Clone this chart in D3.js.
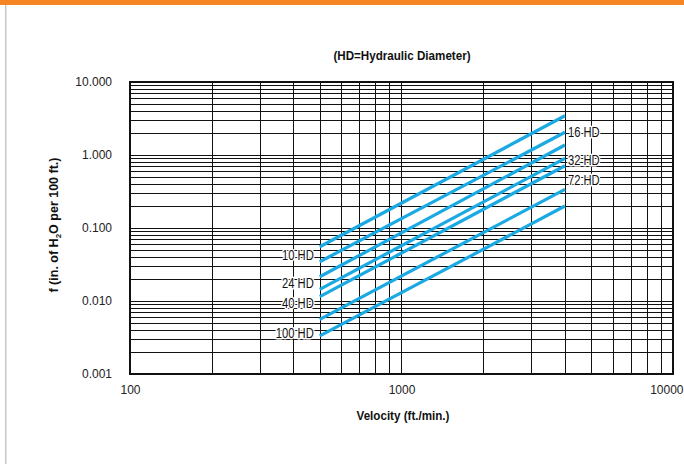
<!DOCTYPE html>
<html>
<head>
<meta charset="utf-8">
<script src="https://cdn.jsdelivr.net/npm/d3@7"></script>
<style>
  html, body { margin: 0; padding: 0; background: #fff; }
  svg { display: block; }
</style>
</head>
<body>
<svg id="chart" width="684" height="464"></svg>
<script>
// ---- data ----
const seriesNames = ["10 HD", "16 HD", "24 HD", "32 HD", "40 HD", "72 HD", "100 HD"];
const velocityPoints = [500, 4000];
const frictionAt500 = [0.0554, 0.0345, 0.0215, 0.01445, 0.01146, 0.00561, 0.00332];
const frictionAt4000 = [3.45, 2.05, 1.37, 0.90, 0.713, 0.339, 0.200];
const labelSide = ["left", "right", "left", "right", "left", "right", "left"];
const yTickValues = [10, 1, 0.1, 0.01, 0.001];
const yTickLabels = ["10.000", "1.000", "0.100", "0.010", "0.001"];
const xTickValues = [100, 1000, 10000];
const xTickLabels = ["100", "1000", "10000"];

// ---- layout ----
const svg = d3.select("#chart");
const plot = { left: 130, right: 673, top: 82, bottom: 374 };
const x = d3.scaleLog().domain([100, 10000]).range([plot.left, plot.right]);
const y = d3.scaleLog().domain([0.001, 10]).range([plot.bottom, plot.top]);
const narrow = "'Liberation Sans Narrow', 'Arial Narrow', 'Liberation Sans', Arial, sans-serif";
const regular = "'Liberation Sans', Arial, sans-serif";
const blue = "#1aa9e3";

// orange header bar & left rule
svg.append("rect").attr("x", 0).attr("y", 0).attr("width", 684).attr("height", 5).attr("fill", "#f58423");
svg.append("rect").attr("x", 5).attr("y", 5).attr("width", 1.5).attr("height", 459).attr("fill", "#c8c8c8");

// grid lines (log decades with minor 2..9)
function minorValues(lo, hi) {
  const out = [];
  for (let d = lo; d < hi; d *= 10) for (let k = 1; k <= 10; k++) out.push(+(d * k).toPrecision(6));
  return Array.from(new Set(out));
}
const gx = minorValues(100, 10000);
const gy = minorValues(0.001, 10);
const grid = svg.append("g").attr("stroke", "#111").attr("stroke-width", 1.2).attr("shape-rendering", "crispEdges");
grid.selectAll("line.v").data(gx).join("line").attr("class", "v")
  .attr("x1", d => Math.round(x(d)) + 0.5).attr("x2", d => Math.round(x(d)) + 0.5)
  .attr("y1", plot.top).attr("y2", plot.bottom);
grid.selectAll("line.h").data(gy).join("line").attr("class", "h")
  .attr("y1", d => Math.round(y(d)) + 0.5).attr("y2", d => Math.round(y(d)) + 0.5)
  .attr("x1", plot.left).attr("x2", plot.right);

// frame
svg.append("rect").attr("x", plot.left).attr("y", plot.top)
  .attr("width", plot.right - plot.left).attr("height", plot.bottom - plot.top)
  .attr("fill", "none").attr("stroke", "#111").attr("stroke-width", 2);

// axes labels (tick text)
const yAxis = d3.axisLeft(y).tickValues(yTickValues).tickSize(0).tickPadding(18)
  .tickFormat((d, i) => yTickLabels[i]);
const yg = svg.append("g").attr("transform", `translate(${plot.left},0)`).call(yAxis);
yg.select(".domain").remove();
yg.selectAll("text").attr("font-family", regular).attr("font-size", 12).attr("fill", "#222");

const xAxis = d3.axisBottom(x).tickValues(xTickValues).tickSize(0).tickPadding(11)
  .tickFormat((d, i) => xTickLabels[i]);
const xg = svg.append("g").attr("transform", `translate(0,${plot.bottom})`).call(xAxis);
xg.select(".domain").remove();
xg.selectAll("text").attr("font-family", regular).attr("font-size", 12).attr("fill", "#222");
// keep the last tick label inside the page
xg.selectAll("text").filter(d => d === 10000).attr("text-anchor", "end").attr("x", 683 - plot.right);

// series lines
const series = seriesNames.map((name, i) => ({
  name, side: labelSide[i],
  pts: [[velocityPoints[0], frictionAt500[i]], [velocityPoints[1], frictionAt4000[i]]]
}));
const line = d3.line().x(d => x(d[0])).y(d => y(d[1]));
svg.append("g").selectAll("path").data(series).join("path")
  .attr("d", d => line(d.pts)).attr("fill", "none")
  .attr("stroke", blue).attr("stroke-width", 3.2);

// line labels with white halo (condensed)
const labelDy = { "10 HD": 8, "24 HD": 6, "40 HD": 6, "100 HD": -3, "16 HD": 0, "32 HD": 2, "72 HD": -9 };
const labels = svg.append("g").selectAll("text").data(series).join("text")
  .attr("x", d => d.side === "left" ? x(d.pts[0][0]) - 6 : x(d.pts[1][0]) + 3)
  .attr("y", d => (d.side === "left" ? y(d.pts[0][1]) : y(d.pts[1][1])) + labelDy[d.name] + 5)
  .attr("text-anchor", d => d.side === "left" ? "end" : "start")
  .attr("font-family", narrow).attr("font-size", 14).attr("fill", "#111")
  .attr("stroke", "#fff").attr("stroke-width", 3).attr("paint-order", "stroke")
  .attr("stroke-linejoin", "round")
  .text(d => d.name);
labels.each(function () {
  const w = this.getComputedTextLength();
  d3.select(this).attr("textLength", w * 0.8).attr("lengthAdjust", "spacingAndGlyphs");
});

// titles
function condense(sel, f) {
  sel.each(function () {
    const w = this.getComputedTextLength();
    d3.select(this).attr("textLength", w * f).attr("lengthAdjust", "spacingAndGlyphs");
  });
}
const t1 = svg.append("text").attr("x", 402).attr("y", 60).attr("text-anchor", "middle")
  .attr("font-family", narrow).attr("font-weight", "bold").attr("font-size", 13.5).attr("fill", "#111")
  .text("(HD=Hydraulic Diameter)");
condense(t1, 0.86);
const t2 = svg.append("text").attr("x", 403).attr("y", 420).attr("text-anchor", "middle")
  .attr("font-family", narrow).attr("font-weight", "bold").attr("font-size", 13.5).attr("fill", "#111")
  .text("Velocity (ft./min.)");
condense(t2, 0.86);
const yt = svg.append("text").attr("transform", "translate(58,225) rotate(-90)").attr("text-anchor", "middle")
  .attr("font-family", narrow).attr("font-weight", "bold").attr("font-size", 12.5).attr("fill", "#111");
yt.append("tspan").text("f (in. of H");
yt.append("tspan").attr("font-size", 8).attr("dy", 3).text("2");
yt.append("tspan").attr("dy", -3).text("O per 100 ft.)");
</script>
</body>
</html>
